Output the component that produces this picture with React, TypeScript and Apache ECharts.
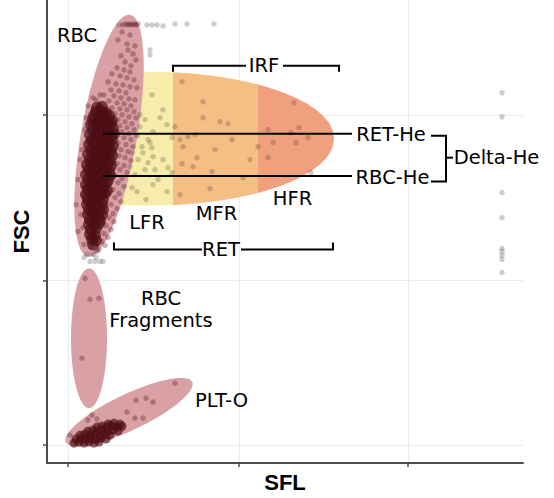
import React, { useEffect, useRef } from 'react';
import * as echarts from 'echarts';

// Axis tick positions (SFL / FSC channel units, no labels shown)
const sflTicks = [21, 192, 361];
const fscTicks = [18, 183, 349];

// Dense RBC core (SFL, FSC)
const rbcCore = [
  [50,356],[55,357],
  [49,352],[54,353],[59,351],
  [47,348],[52,347],[57,349],[62,348],
  [46,344],[51,343],[56,345],[61,344],[65,343],
  [44,339],[49,340],[54,338],[59,339],[64,340],
  [46,334],[51,335],[56,333],[61,334],[66,335],
  [43,329],[48,328],[53,330],[58,329],[63,328],[67,330],
  [45,324],[50,325],[55,323],[60,324],[65,325],
  [42,319],[47,320],[52,318],[57,319],[62,320],[66,318],
  [44,314],[49,313],[54,315],[59,314],[64,313],
  [41,309],[46,310],[51,308],[56,309],[61,310],[65,308],
  [43,304],[48,303],[53,305],[58,304],[63,303],
  [40,299],[45,300],[50,298],[55,299],[60,300],[64,298],
  [42,294],[47,293],[52,295],[57,294],[62,293],
  [39,289],[44,290],[49,288],[54,289],[59,290],[63,288],
  [41,284],[46,283],[51,285],[56,284],[61,283],
  [39,279],[44,280],[49,278],[54,279],[59,280],
  [41,274],[46,273],[51,275],[56,274],[60,273],
  [39,269],[44,270],[49,268],[54,269],[58,270],
  [41,264],[46,263],[51,265],[56,264],
  [40,259],[45,260],[50,258],[55,259],
  [42,254],[47,253],[52,255],[56,254],
  [41,249],[46,250],[51,248],[55,249],
  [43,244],[48,245],[53,243],
  [42,239],[47,238],[52,240],
  [44,234],[49,235],
  [43,229],[48,228],
  [45,224],[49,223],
  [46,219],
];

// Sparse cells inside the RBC gate
const rbcCells = [
  [76,439],[79,440],[81,439],[83,440],[85,439],[87,440],[89,439],[91,440],
  [75,432],[83,429],[71,424],[80,420],[88,418],[81,414],[86,410],[74,408],[89,404],[78,402],
  [84,398],[70,396],[77,394],[83,392],[65,390],[73,388],[80,386],[87,384],[61,382],[69,380],
  [76,379],[83,377],[90,376],[64,374],[72,373],[79,371],[57,369],[67,368],[74,366],[82,365],
  [88,364],[62,363],[70,361],[77,360],[84,358],[53,358],[65,356],[73,355],[80,354],[87,352],
  [59,351],[68,350],[75,349],[82,347],[89,346],[71,344],[78,342],[85,340],[73,338],[80,336],
  [87,334],[75,332],[82,330],[90,328],[77,326],[84,324],[71,321],[79,319],[86,317],[74,314],
  [81,312],[72,308],[78,306],[84,303],[70,300],[77,298],[73,294],[80,291],[68,288],[75,285],
  [71,281],[77,277],[66,274],[72,270],[68,266],[74,262],[64,259],[70,255],[66,250],[62,246],
  [67,242],[59,238],[64,234],[57,230],[61,226],[55,222],[58,218],[52,214],
  [41,358],[46,366],[38,334],[33,304],[31,284],[29,259],[36,236],[31,232],[37,219],[35,314],
  [36,269],[34,249],[39,346],[49,364],[53,369],[38,296],[37,276],[40,322],[42,340],[38,262],
  [40,242],[42,228],[44,216],[50,212],
];

// Reticulocytes (LFR / MFR / HFR area)
const retCells = [
  [105,369],[116,354],[113,346],[98,344],[120,339],[106,332],[101,324],[103,321],[95,317],[105,316],
  [96,311],[106,307],[91,304],[101,301],[116,304],[121,296],[108,294],[85,276],[90,272],[106,279],
  [125,291],[120,272],[125,326],[85,311],[83,297],[88,289],[93,337],[98,294],[93,349],[111,284],
  [99,264],
  [156,362],[156,346],[173,342],[181,340],[128,337],[136,317],[150,306],[135,300],[165,292],[196,286],
  [163,275],[148,329],[185,324],[168,314],[203,304],[135,382],[133,324],[141,327],[146,297],[133,269],
  [211,317],[221,306],[247,361],[221,334],[244,331],[252,336],[261,326],[226,321],[249,321],
];

// Events outside the gates
const otherCells = [
  [72,439],[100,439],[105,439],[110,439],[116,438],[128,440],[140,440],[167,440],[103,414],[103,409],
  [40,209],[46,209],[43,202],[48,202],[53,202],[56,202],[37,206],[49,206],
  [455,371],[455,347],[455,271],[455,246],[455,215],[455,212],[455,208],[455,204],[455,191],
  [264,291],
];

const fragmentCells = [[38,185],[43,164],[52,165],[35,105]];

const pltCells = [
  [128,80],[89,63],[99,65],[106,61],[80,51],[88,45],[96,45],[45,48],[41,43],[50,44],
  [23,28],[71,38],[75,34],[63,40],[56,36],
];

const pltCore = [
  [27,20],[32,21],[37,20],[42,21],[47,20],[52,21],
  [29,24],[34,25],[39,24],[44,25],[49,24],[54,25],[59,24],
  [33,28],[38,29],[43,28],[48,29],[53,28],[58,29],[63,28],
  [41,32],[46,33],[51,32],[56,33],[61,32],[66,33],[71,32],
  [50,36],[55,37],[60,36],[65,37],[70,36],[75,37],
  [61,39],[67,40],[73,39],
];

// Gates
const ellipseGates = [
  { name: 'RBC', cx: 62, cy: 328, a: 123, b: 28, angle: 80.15 },
  { name: 'RBC Fragments', cx: 42, cy: 125, a: 70, b: 18, angle: 90 },
  { name: 'PLT-O', cx: 82, cy: 51, a: 70, b: 18, angle: 25.5 },
];
const retGate = { cx: 103, cy: 325, rx: 184, ry: 67 };
const retBands = [
  { name: 'LFR', from: 58, to: 126, color: '#F7EDAA' },
  { name: 'MFR', from: 126, to: 211, color: '#F5BF84' },
  { name: 'HFR', from: 211, to: 287, color: '#F1A07D' },
];

// Annotation brackets / lines
const annotationLines = [
  [[56,330],[305,330]],
  [[56,287.5],[305,287.5]],
  [[126,392],[126,398],[199,398]],
  [[236,398],[292,398],[292,392]],
  [[67,221],[67,214],[155,214]],
  [[194,214],[286,214],[286,221]],
  [[384,328],[399,328],[399,282],[384,282]],
  [[399,306],[406,306]],
];
const annotationLabels: [string, number, number][] = [
  ['RBC', 30, 428.5],
  ['IRF', 217, 398],
  ['LFR', 100, 241.5],
  ['MFR', 169.5, 250],
  ['HFR', 245.5, 265.5],
  ['RET', 174, 213.5],
  ['RET-He', 344, 329.5],
  ['RBC-He', 345.5, 286],
  ['Delta-He', 449.5, 306],
  ['RBC\nFragments', 114, 153.5],
  ['PLT-O', 174.5, 63],
];

const GATE_COLOR = '#D9A0A5';
const MAROON = 'rgba(80,6,16,0.38)';
const MAROON_CORE = 'rgba(78,13,20,0.85)';
const GRAY = 'rgba(50,50,50,0.3)';
const LABEL_FONT = "19.5px 'DejaVu Sans'";

function ellipsePts(api: any, g: any) {
  const phi = (g.angle * Math.PI) / 180;
  const pts: number[][] = [];
  for (let i = 0; i < 120; i++) {
    const t = (i / 120) * Math.PI * 2;
    const u = g.a * Math.cos(t);
    const v = g.b * Math.sin(t);
    pts.push(api.coord([g.cx + u * Math.cos(phi) - v * Math.sin(phi), g.cy + u * Math.sin(phi) + v * Math.cos(phi)]));
  }
  return pts;
}

function halfHeight(x: number) {
  if (x <= retGate.cx) return retGate.ry;
  const r = (x - retGate.cx) / retGate.rx;
  return retGate.ry * Math.sqrt(Math.max(0, 1 - r * r));
}

function bandPts(api: any, b: any) {
  const xs: number[] = [];
  const n = 60;
  for (let i = 0; i <= n; i++) xs.push(b.from + ((b.to - b.from) * i) / n);
  const top = xs.map((x) => api.coord([x, retGate.cy + halfHeight(x)]));
  const bot = xs.slice().reverse().map((x) => api.coord([x, retGate.cy - halfHeight(x)]));
  return top.concat(bot);
}

export default function App() {
  const ref = useRef<HTMLDivElement>(null);
  useEffect(() => {
    const chart = echarts.init(ref.current!, null, { renderer: 'svg' });
    const axisColor = '#4d4d4d';
    const option: any = {
      animation: false,
      backgroundColor: '#ffffff',
      grid: { left: 47, right: 31, top: 0, bottom: 34, containLabel: false },
      xAxis: {
        type: 'value', min: 0, max: 476,
        name: 'SFL', nameLocation: 'middle', nameGap: 8,
        nameTextStyle: { fontFamily: 'Liberation Sans', fontWeight: 'bold', fontSize: 22, color: '#000' },
        axisLine: { show: true, lineStyle: { color: axisColor, width: 2 } },
        axisTick: { show: true, length: 4, customValues: sflTicks, lineStyle: { color: axisColor, width: 1.5 } },
        axisLabel: { show: false },
        splitLine: { show: true, lineStyle: { color: '#ebebeb', width: 1.2 } },
      },
      yAxis: {
        type: 'value', min: 0, max: 464,
        name: 'FSC', nameLocation: 'middle', nameGap: 15, nameRotate: 90,
        nameTextStyle: { fontFamily: 'Liberation Sans', fontWeight: 'bold', fontSize: 22, color: '#000' },
        axisLine: { show: true, lineStyle: { color: axisColor, width: 2 } },
        axisTick: { show: true, length: 4, customValues: fscTicks, lineStyle: { color: axisColor, width: 1.5 } },
        axisLabel: { show: false },
        splitLine: { show: true, lineStyle: { color: '#ebebeb', width: 1.2 } },
      },
      series: [
        {
          type: 'custom', name: 'gates', z: 1, silent: true,
          data: [[0, 0]],
          renderItem: (_p: any, api: any) => {
            const children: any[] = [];
            retBands.forEach((b) => children.push({ type: 'polygon', shape: { points: bandPts(api, b) }, style: { fill: b.color } }));
            ellipseGates.forEach((g) => children.push({ type: 'polygon', shape: { points: ellipsePts(api, g) }, style: { fill: GATE_COLOR } }));
            return { type: 'group', children };
          },
        },
        { type: 'scatter', name: 'other', z: 2, silent: true, symbolSize: 5.5, itemStyle: { color: GRAY }, data: otherCells },
        { type: 'scatter', name: 'RET', z: 2, silent: true, symbolSize: 5.5, itemStyle: { color: GRAY }, data: retCells },
        { type: 'scatter', name: 'RBC', z: 2, silent: true, symbolSize: 5.5, itemStyle: { color: MAROON }, data: rbcCells },
        { type: 'scatter', name: 'RBC core', z: 2, silent: true, symbolSize: 12, itemStyle: { color: MAROON_CORE }, data: rbcCore },
        { type: 'scatter', name: 'Fragments', z: 2, silent: true, symbolSize: 5.5, itemStyle: { color: MAROON }, data: fragmentCells },
        { type: 'scatter', name: 'PLT-O', z: 2, silent: true, symbolSize: 5.5, itemStyle: { color: MAROON }, data: pltCells },
        { type: 'scatter', name: 'PLT-O core', z: 2, silent: true, symbolSize: 9, itemStyle: { color: MAROON_CORE }, data: pltCore },
        {
          type: 'custom', name: 'annotations', z: 3, silent: true,
          data: [[0, 0]],
          renderItem: (_p: any, api: any) => {
            const children: any[] = [];
            annotationLines.forEach((seg) => children.push({
              type: 'polyline',
              shape: { points: seg.map((p) => api.coord(p)) },
              style: { stroke: '#000', lineWidth: 2, fill: null },
            }));
            annotationLabels.forEach(([t, x, y]) => {
              const p = api.coord([x, y]);
              children.push({
                type: 'text', x: p[0], y: p[1],
                style: { text: t, font: LABEL_FONT, lineHeight: 22, fill: '#000', align: 'center', verticalAlign: 'middle', textAlign: 'center', textVerticalAlign: 'middle' },
              });
            });
            return { type: 'group', children };
          },
        },
      ],
    };
    chart.setOption(option);
    return () => chart.dispose();
  }, []);
  return <div ref={ref} style={{ position: 'fixed', left: 0, top: 0, width: 554, height: 498 }} />;
}
